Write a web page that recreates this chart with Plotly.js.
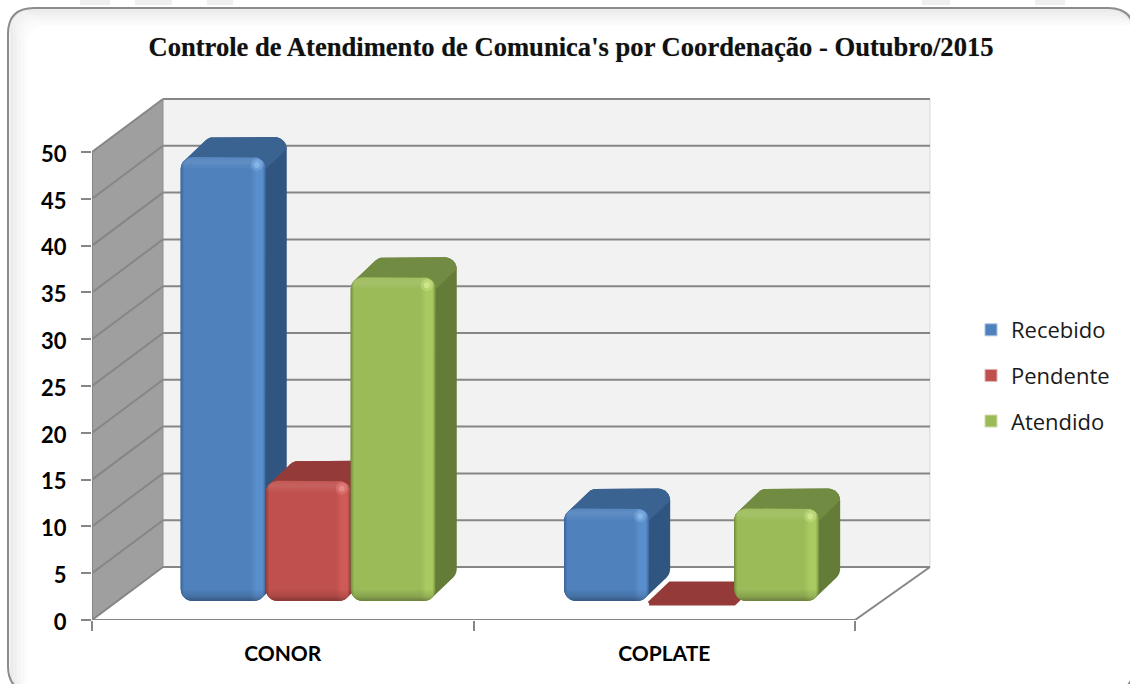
<!DOCTYPE html>
<html>
<head>
<meta charset="utf-8">
<script src="https://cdn.plot.ly/plotly-3.0.1.min.js"></script>
<style>html,body{margin:0;padding:0;background:#fff;overflow:hidden}#chart{width:1130px;height:684px}</style>
</head>
<body>
<div id="chart"></div>
<script>
const categories = ['CONOR', 'COPLATE'];
const seriesNames = ['Recebido', 'Pendente', 'Atendido'];
const recebido = [48, 10];
const pendente = [13, 0];
const atendido = [35, 10];
const yTicks = [0, 5, 10, 15, 20, 25, 30, 35, 40, 45, 50];

const W = 1130, H = 684;
const L = 92, R = 940, T = 98, B = 620;
const xUnit = 381.5, yUnit = 9.36;
const px = p => p / xUnit, py = p => p / yUnit;
const wallDX = px(71), wallDY = py(53);
const barW = px(85), frontDX = px(25.5), barBase = py(19), valScale = 0.988, groupStep = 1.005;
const barDX = px(21), barDY = py(20), radius = 12;

const palettes = [
  { base: '#4f81bd', light: '#5a8fcd', dark: '#3a6699', side: '#305580', top: '#3b6391', glint: '#9cc8f5', edge: '#a9c4e4' },
  { base: '#c0504d', light: '#d05a56', dark: '#8f3b39', side: '#8e3a38', top: '#943b39', glint: '#f5a09a', edge: '#e0b0ae' },
  { base: '#9bbb59', light: '#a9ca60', dark: '#748f3f', side: '#657b38', top: '#728b42', glint: '#e0f5a0', edge: '#cfe0a8' }
];
const GRID = '#868686';

function fx(p) { return p / W; }
function fy(p) { return 1 - p / H; }
function roundedPath(x0, y0, x1, y1, r) {
  const X = fx, Y = fy;
  return `M${X(x0 + r)},${Y(y0)}L${X(x1 - r)},${Y(y0)}Q${X(x1)},${Y(y0)} ${X(x1)},${Y(y0 + r)}` +
    `L${X(x1)},${Y(y1 - r)}Q${X(x1)},${Y(y1)} ${X(x1 - r)},${Y(y1)}L${X(x0 + r)},${Y(y1)}` +
    `Q${X(x0)},${Y(y1)} ${X(x0)},${Y(y1 - r)}L${X(x0)},${Y(y0 + r)}Q${X(x0)},${Y(y0)} ${X(x0 + r)},${Y(y0)}Z`;
}
function wallLine(x0, y0, x1, y1, w, c) {
  return { type: 'line', layer: 'below', xref: 'x', yref: 'y', x0, y0, x1, y1, line: { color: c || GRID, width: w || 2 } };
}
function polyShape(pts, fill) {
  const d = pts.map((p, i) => (i ? 'L' : 'M') + p[0] + ',' + p[1]).join('') + 'Z';
  return { type: 'path', layer: 'below', xref: 'x', yref: 'y', path: d, fillcolor: fill, line: { width: 0 } };
}

const maxTick = yTicks[yTicks.length - 1];
const shapes = [];
// faint remnants of the page behind the chart, along the top edge
[[80, 110], [135, 172], [207, 233], [922, 950], [1035, 1065]].forEach(b => shapes.push({
  type: 'rect', layer: 'below', xref: 'paper', yref: 'paper',
  x0: fx(b[0]), x1: fx(b[1]), y0: fy(5), y1: fy(0), fillcolor: '#efefef', line: { width: 0 }
}));
// frame with inner glow along the top and left; right and bottom run off the page
for (let i = 12; i >= 1; i--) {
  shapes.push({
    type: 'path', layer: 'below', xref: 'paper', yref: 'paper',
    path: roundedPath(9 + i * 1.4, 8 + i * 1.4, 1134 + i, 694 + i, 22),
    line: { color: `rgba(120,120,120,${(0.11 - i * 0.008).toFixed(3)})`, width: 2 }, fillcolor: 'rgba(0,0,0,0)'
  });
}
shapes.push({
  type: 'path', layer: 'below', xref: 'paper', yref: 'paper',
  path: roundedPath(8, 8, 1134, 692, 26), line: { color: '#8c8c8c', width: 2 }, fillcolor: 'rgba(0,0,0,0)'
});
// walls
const backX0 = wallDX, backX1 = 2 + px(75);
shapes.push(polyShape([[backX0, wallDY], [backX1, wallDY], [backX1, maxTick + wallDY], [backX0, maxTick + wallDY]], '#f2f2f2'));
shapes.push(polyShape([[0, 0], [backX0, wallDY], [backX0, maxTick + wallDY], [0, maxTick]], '#9f9f9f'));
shapes.push(wallLine(backX1, wallDY, backX1, maxTick + wallDY, 1, '#d9d9d9'));
yTicks.forEach(t => {
  shapes.push(wallLine(backX0, t + wallDY, backX1, t + wallDY));
  shapes.push(wallLine(0, t, backX0, t + wallDY));
});
shapes.push(wallLine(backX0, wallDY, backX0, maxTick + wallDY, 1, '#8f8f8f'));
// floor and axis edges
shapes.push(wallLine(0, 0, 2, 0, 2));
shapes.push(wallLine(2, 0, backX1, wallDY, 2));
shapes.push(wallLine(0, 0, 0, maxTick, 2));

function arc(cx, cy, r, a0, a1) {
  const out = [];
  for (let k = 0; k <= 6; k++) {
    const a = (a0 + (a1 - a0) * k / 6) * Math.PI / 180;
    out.push([cx + px(r) * Math.cos(a), cy + py(r) * Math.sin(a)]);
  }
  return out;
}
function rrect(x0, x1, y0, y1, r) {
  r = Math.min(r, (y1 - y0) * yUnit / 2);
  return [].concat(
    arc(x0 + px(r), y1 - py(r), r, 180, 90),
    arc(x1 - px(r), y1 - py(r), r, 90, 0),
    arc(x1 - px(r), y0 + py(r), r, 0, -90),
    arc(x0 + px(r), y0 + py(r), r, -90, -180)
  );
}
function hull(points) {
  const pts = points.map(p => [p[0] * xUnit, p[1] * yUnit]).sort((a, b) => a[0] - b[0] || a[1] - b[1]);
  const cross = (o, a, b) => (a[0] - o[0]) * (b[1] - o[1]) - (a[1] - o[1]) * (b[0] - o[0]);
  const lo = [], up = [];
  pts.forEach(p => { while (lo.length > 1 && cross(lo[lo.length - 2], lo[lo.length - 1], p) <= 0) lo.pop(); lo.push(p); });
  pts.slice().reverse().forEach(p => { while (up.length > 1 && cross(up[up.length - 2], up[up.length - 1], p) <= 0) up.pop(); up.push(p); });
  return lo.slice(0, -1).concat(up.slice(0, -1)).map(p => [p[0] / xUnit, p[1] / yUnit]);
}
function poly(pts, extra) {
  const c = pts.concat([pts[0]]);
  return Object.assign({
    type: 'scatter', mode: 'lines', x: c.map(p => p[0]), y: c.map(p => p[1]), fill: 'toself',
    line: { width: 0 }, showlegend: false, hoverinfo: 'skip', cliponaxis: false
  }, extra);
}

const seriesValues = [recebido, pendente, atendido];
const traces = [];
const barLeft = (c, s) => c * groupStep + 0.5 + frontDX + (s - 1) * barW - barW / 2;
// real bars under the shaded faces
seriesValues.forEach((vals, s) => {
  traces.push({
    type: 'bar', name: seriesNames[s], showlegend: false,
    x: vals.map((v, c) => barLeft(c, s) + barW / 2),
    y: vals.map(v => v * valScale), base: vals.map(() => barBase),
    width: barW, marker: { color: palettes[s].base, cornerradius: radius, line: { width: 0 } }, hoverinfo: 'skip'
  });
});
// extruded faces, painted left to right so each bar hides its neighbour's side
categories.forEach((cat, c) => {
  seriesValues.forEach((vals, s) => {
    const v = vals[c], pal = palettes[s];
    const sink = v > 0 ? 0 : py(2.5);
    const x0 = barLeft(c, s), x1 = x0 + barW, y0 = barBase - sink, y1 = y0 + v * valScale;
    const heightPx = (y1 - y0) * yUnit;
    const front = rrect(x0, x1, y0, y1, radius);
    const back = rrect(x0 + barDX, x1 + barDX, y0 + barDY, y1 + barDY, radius);
    if (v > 0) traces.push(poly(hull(front.concat(back)), { fillcolor: pal.side }));
    const cut = y1 - py(radius) - 1e-6;
    const topHull = hull(front.filter(p => p[1] >= cut).concat(back.filter(p => p[1] >= cut + barDY)));
    traces.push(poly(topHull, v > 0 ? { fillcolor: pal.top } : { fillcolor: pal.top, line: { width: 4, color: pal.top } }));
    if (v > 0) {
      traces.push(poly(front, {
        fillcolor: pal.base,
        fillgradient: {
          type: 'horizontal',
          colorscale: [[0, pal.dark], [0.04, pal.base], [0.1, pal.base], [0.82, pal.base], [0.89, pal.light], [0.96, pal.light], [1, pal.dark]]
        }
      }));
      const band = 12 / heightPx;
      traces.push(poly(front, {
        fillcolor: 'rgba(0,0,0,0)',
        fillgradient: {
          type: 'vertical',
          colorscale: [
            [0, 'rgba(0,0,0,0.32)'], [band * 0.4, 'rgba(0,0,0,0.12)'], [band, 'rgba(0,0,0,0)'],
            [1 - band, 'rgba(255,255,255,0)'], [1 - band * 0.4, 'rgba(255,255,255,0.10)'], [1, 'rgba(255,255,255,0.04)']
          ]
        }
      }));
      [[12, 0.25], [6, 0.5]].forEach(g => traces.push({
        type: 'scatter', mode: 'markers', x: [x1 - px(9)], y: [y1 - py(8)], showlegend: false, hoverinfo: 'skip',
        marker: { size: g[0], color: pal.glint, opacity: g[1], line: { width: 0 } }
      }));
    }
  });
});
// legend keys
seriesNames.forEach((name, s) => {
  traces.push({
    type: 'scatter', mode: 'markers', name, legendgroup: name, x: [null], y: [null], hoverinfo: 'skip',
    marker: { symbol: 'square', size: 12, color: palettes[s].base, line: { width: 1, color: palettes[s].edge } }
  });
});

const layout = {
  width: W, height: H, autosize: false,
  margin: { l: 0, r: 0, t: 0, b: 0 },
  paper_bgcolor: '#ffffff', plot_bgcolor: 'rgba(0,0,0,0)',
  barmode: 'overlay',
  showlegend: true,
  title: {
    text: "Controle de Atendimento de Comunica's por Coordenação - Outubro/2015",
    x: 571 / W, xref: 'paper', xanchor: 'center', y: 1 - 47 / H, yref: 'paper', yanchor: 'middle',
    font: { family: '"Liberation Serif", serif', size: 26.6, color: '#111111', weight: 700, shadow: '0 0 1px rgba(0,0,0,0.35)' }
  },
  xaxis: {
    domain: [L / W, R / W], range: [0, (R - L) / xUnit], fixedrange: true,
    showgrid: false, zeroline: false, showline: false,
    tickmode: 'array', tickvals: categories.map((c, i) => i + 0.5), ticktext: categories,
    ticks: '', ticklabelstandoff: 19,
    tickfont: { family: 'Lato, sans-serif', size: 21, color: '#000000', weight: 700 },
    minor: { tickmode: 'array', tickvals: [0, 1, 2], ticks: 'outside', ticklen: 10, tickwidth: 2, tickcolor: GRID, showgrid: false }
  },
  yaxis: {
    domain: [1 - B / H, 1 - T / H], range: [0, (B - T) / yUnit], fixedrange: true,
    showgrid: false, zeroline: false, showline: false,
    tickmode: 'array', tickvals: yTicks, ticktext: yTicks.map(String),
    ticks: 'outside', ticklen: 10, tickwidth: 2, tickcolor: GRID, ticklabelstandoff: 10, ticklabelshift: 2,
    tickfont: { family: 'Lato, sans-serif', size: 22, color: '#000000', weight: 700 }
  },
  legend: {
    x: 971 / W, y: 1 - 309 / H, xanchor: 'left', yanchor: 'top', bgcolor: 'rgba(0,0,0,0)',
    traceorder: 'grouped', tracegroupgap: 14, itemclick: false, itemdoubleclick: false,
    font: { family: '"Open Sans", sans-serif', size: 22, color: '#1a1a1a' }
  },
  shapes
};
Plotly.newPlot('chart', traces, layout, { displayModeBar: false, staticPlot: true });
</script>
</body>
</html>
